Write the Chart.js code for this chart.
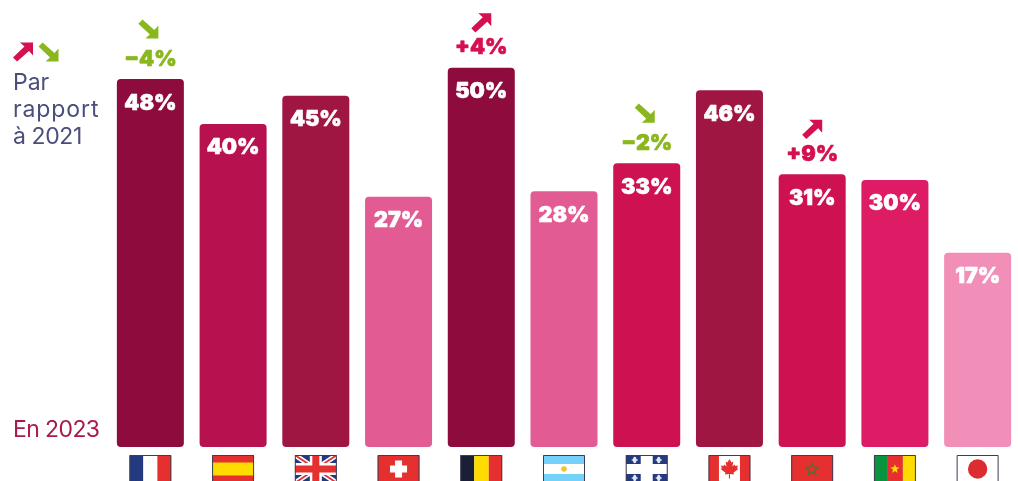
<!DOCTYPE html>
<html lang="fr"><head><meta charset="utf-8">
<style>html,body{margin:0;padding:0;background:#fff;overflow:hidden}#w{position:relative;width:1018px;height:481px;overflow:hidden}canvas{display:block}</style>
<script src="https://cdn.jsdelivr.net/npm/chart.js@4"></script></head>
<body><div id="w"><canvas id="c" width="1020" height="481"></canvas></div>
<script>
const categories=["France","Espagne","Royaume-Uni","Suisse","Belgique","Argentine","Québec","Canada","Maroc","Cameroun","Japon"];
const flags=["fr","es","gb","ch","be","ar","qc","ca","ma","cm","jp"];
const values2023=[48,40,45,27,50,28,33,46,31,30,17];
const deltas2021=[-4,null,null,null,4,null,-2,null,9,null,null];
const barColors=["#8E0C3D","#B7124F","#A01642","#E35B93","#8E0C3D","#E35B93","#CE1150","#A01642","#CE1150","#DE1C66","#F28FB9"];
const legendLines=["Par","rapport","à 2021"];
const baseLabel="En 2023";
const AXIS_MIN=-17.63, AXIS_MAX=62.1;
const UP="#D4104F", DOWN="#8AB71E", INK="#4A4E7A", WINE="#A81A4B";
const LABEL_FONT='900 21.5px Inter, Roboto, sans-serif';

function arrow(ctx,cx,cy,up,color){
  ctx.save();ctx.translate(cx,cy);if(!up)ctx.scale(1,-1);
  ctx.fillStyle=color;ctx.beginPath();
  ctx.moveTo(-10,5.4);ctx.lineTo(1.5,-5.5);ctx.lineTo(-3,-9.5);
  ctx.lineTo(10,-9.5);ctx.lineTo(10,3.5);ctx.lineTo(6,-1);
  ctx.lineTo(-5.9,9.6);ctx.closePath();ctx.fill();ctx.restore();
}
function star(ctx,x,y,r,fill,stroke){
  ctx.beginPath();
  for(let i=0;i<10;i++){const a=-Math.PI/2+i*Math.PI/5,q=i%2?r*0.42:r;
    ctx[i?'lineTo':'moveTo'](x+q*Math.cos(a),y+q*Math.sin(a));}
  ctx.closePath();
  if(fill){ctx.fillStyle=fill;ctx.fill();}
  if(stroke){ctx.strokeStyle=stroke;ctx.lineWidth=1.4;ctx.stroke();}
}
function drawFlag(ctx,code,cx,y){
  const w=42,h=28,x=cx-w/2,R="#E63030",B="#243A80",Y="#FFDC00",W="#fff",my=y+h/2;
  const rect=(c,a,b,d,e)=>{ctx.fillStyle=c;ctx.fillRect(a,b,d,e);};
  ctx.save();ctx.beginPath();ctx.rect(x,y,w,h);ctx.clip();
  if(code==="fr"){rect(B,x,y,14,h);rect(W,x+14,y,14,h);rect(R,x+28,y,14,h);}
  if(code==="es"){rect(R,x,y,w,h);rect(Y,x,y+7.5,w,13);}
  if(code==="gb"){
    rect(B,x,y,w,h);
    ctx.strokeStyle=W;ctx.lineWidth=5;ctx.beginPath();ctx.moveTo(x,y);ctx.lineTo(x+w,y+h);ctx.moveTo(x+w,y);ctx.lineTo(x,y+h);ctx.stroke();
    ctx.strokeStyle=R;ctx.lineWidth=1.8;ctx.beginPath();ctx.moveTo(x,y);ctx.lineTo(x+w,y+h);ctx.moveTo(x+w,y);ctx.lineTo(x,y+h);ctx.stroke();
    rect(W,cx-6,y,12,h);rect(W,x,my-6,w,12);rect(R,cx-3.5,y,7,h);rect(R,x,my-3.5,w,7);
  }
  if(code==="ch"){rect(R,x,y,w,h);rect(W,cx-3.5,my-8.5,7,17);rect(W,cx-8.5,my-3.5,17,7);}
  if(code==="be"){rect("#1B1F36",x,y,14,h);rect(Y,x+14,y,14.5,h);rect(R,x+28.5,y,13.5,h);}
  if(code==="ar"){
    rect("#74D2FA",x,y,w,h);rect(W,x,y+9,w,10);
    ctx.fillStyle="#F2C230";ctx.beginPath();ctx.arc(cx,my,2.8,0,7);ctx.fill();
  }
  if(code==="qc"){
    rect(B,x,y,w,h);rect(W,cx-6,y,12,h);rect(W,x,my-5,w,10);
    for(const [a,b] of [[-12,-9],[12,-9],[-12,9],[12,9]]){
      ctx.fillStyle="#E4E8F4";ctx.beginPath();ctx.ellipse(cx+a,my+b,1.7,3.2,0,0,7);ctx.fill();
      ctx.fillRect(cx+a-3,my+b-.7,6,1.4);
    }
  }
  if(code==="ca"){
    rect(R,x,y,w,h);rect(W,x+10.5,y,21,h);
    ctx.save();ctx.translate(cx,my);ctx.fillStyle=R;ctx.beginPath();
    const p=[[0,-10],[2,-6.5],[3.8,-7.5],[3,-2.5],[5.2,-4.5],[5.8,-3],[8.5,-3.5],[7.6,-0.8],[8.8,0],[4,3.8],[4.6,5.5],[0.5,5],[0.6,9.5],[-0.6,9.5],[-0.5,5],[-4.6,5.5],[-4,3.8],[-8.8,0],[-7.6,-0.8],[-8.5,-3.5],[-5.8,-3],[-5.2,-4.5],[-3,-2.5],[-3.8,-7.5],[-2,-6.5]];
    p.forEach((q,i)=>ctx[i?'lineTo':'moveTo'](q[0],q[1]));ctx.closePath();ctx.fill();ctx.restore();
  }
  if(code==="ma"){rect(R,x,y,w,h);star(ctx,cx,my+.5,6.5,null,"#3F7A32");}
  if(code==="cm"){rect("#0B9440",x,y,14,h);rect(R,x+14,y,15,h);rect(Y,x+29,y,13,h);star(ctx,cx,my,4.8,Y);}
  if(code==="jp"){rect(W,x,y,w,h);ctx.fillStyle="#DC2C32";ctx.beginPath();ctx.arc(cx,my,9.7,0,7);ctx.fill();}
  ctx.restore();
  ctx.strokeStyle="#3A3D55";ctx.lineWidth=1;ctx.strokeRect(x+.5,y+.5,w-1,h);
}
function heavyText(ctx,t,x,y,color){
  ctx.font=LABEL_FONT;ctx.fillStyle=color;ctx.strokeStyle=color;ctx.lineWidth=0.6;ctx.lineJoin="round";
  ctx.strokeText(t,x,y);ctx.fillText(t,x,y);
}
const annotate={id:"annotate",afterDatasetsDraw(chart){
  const {ctx,scales:{x,y}}=chart;
  ctx.save();ctx.textAlign="center";ctx.textBaseline="middle";
  values2023.forEach((v,i)=>{
    const cx=x.getPixelForValue(i),top=y.getPixelForValue(v);
    heavyText(ctx,v+"%",cx,top+24,"#fff");
    const d=deltas2021[i];
    if(d!==null){
      const col=d>0?UP:DOWN;
      heavyText(ctx,(d>0?"+":"−")+Math.abs(d)+"%",cx,top-20,col);
      arrow(ctx,d>0?cx:cx-2,d>0?top-45:top-50,d>0,col);
    }
    drawFlag(ctx,flags[i],cx,455);
  });
  arrow(ctx,23,52,true,UP);arrow(ctx,48.5,52,false,DOWN);
  ctx.textAlign="left";ctx.textBaseline="alphabetic";
  ctx.font='400 23px Inter, sans-serif';ctx.fillStyle=INK;
  ctx.letterSpacing="0px";ctx.fillText(legendLines[0],13,90);
  ctx.letterSpacing="0.9px";ctx.fillText(legendLines[1],13,117);
  ctx.letterSpacing="-0.4px";ctx.fillText(legendLines[2],13,144);
  ctx.letterSpacing="-0.6px";ctx.fillStyle=WINE;ctx.fillText(baseLabel,13,437);
  ctx.letterSpacing="0px";
  ctx.restore();
}};
new Chart(document.getElementById("c"),{
  type:"bar",
  data:{labels:categories,datasets:[{data:values2023,backgroundColor:barColors,base:AXIS_MIN,
    borderRadius:4,borderSkipped:false,barPercentage:0.81,categoryPercentage:1}]},
  options:{responsive:false,animation:false,
    layout:{padding:{left:109,right:1,top:0,bottom:34}},
    plugins:{legend:{display:false},tooltip:{enabled:false}},
    scales:{x:{display:false},y:{display:false,min:AXIS_MIN,max:AXIS_MAX,beginAtZero:false}}},
  plugins:[annotate]
});
</script></body></html>
